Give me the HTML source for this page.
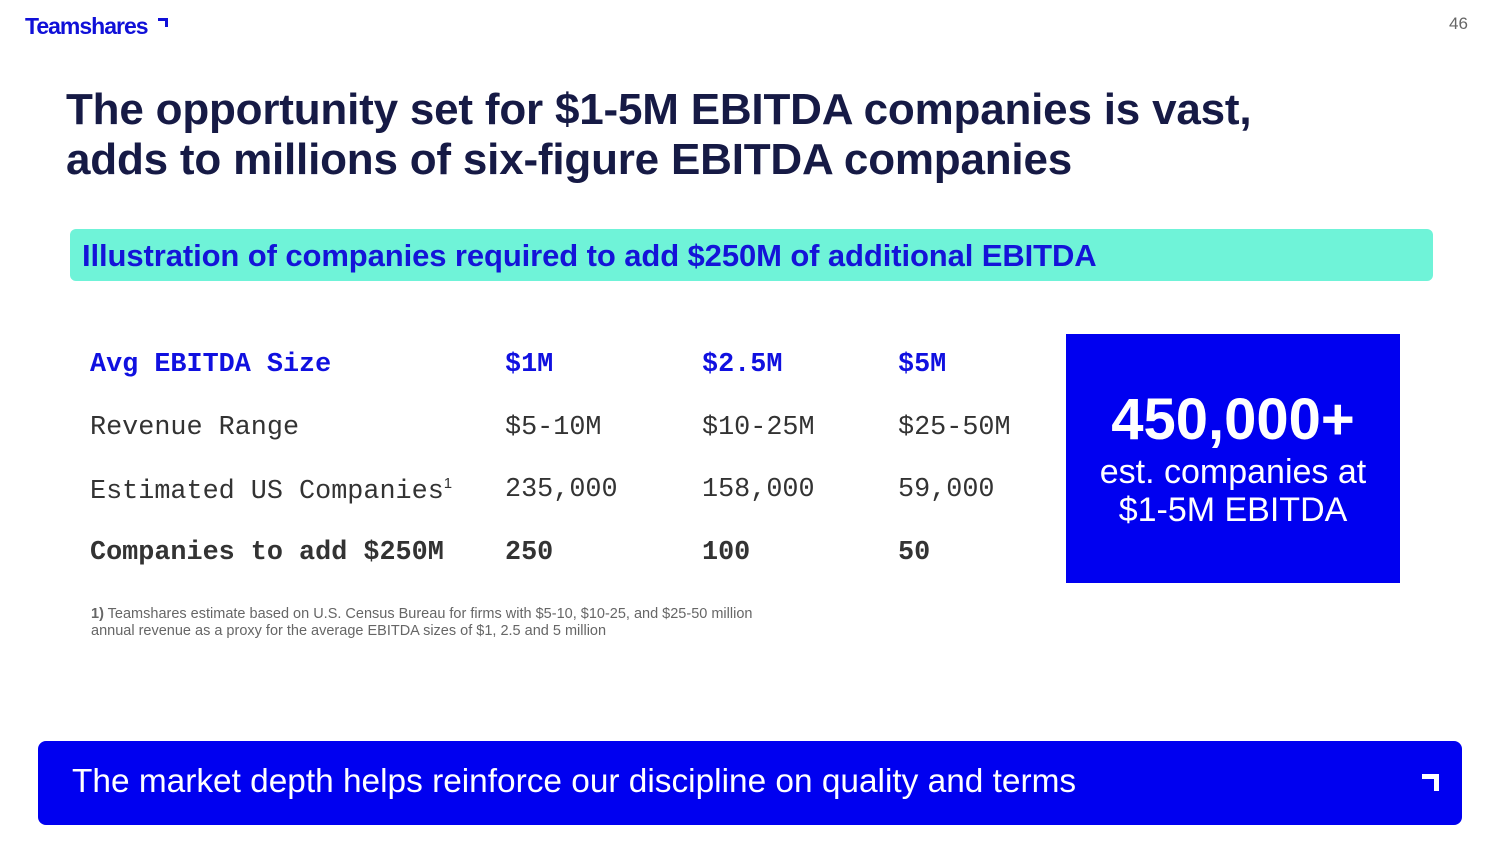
<!DOCTYPE html>
<html><head><meta charset="utf-8"><style>
*{margin:0;padding:0;box-sizing:border-box}
body{width:1500px;height:843px;background:#fff;position:relative;overflow:hidden;font-family:"Liberation Sans",sans-serif}
.a{position:absolute;white-space:nowrap}
.logo{left:25px;top:13px;font-size:23px;font-weight:bold;color:#1010d8;letter-spacing:-1px}
.pn{left:1449px;top:14px;font-size:17px;color:#666}
.title{left:66px;top:85px;font-size:44px;font-weight:bold;color:#161a45;line-height:50px;letter-spacing:-0.2px}
.band{left:70px;top:229px;width:1363px;height:52px;background:#6ff3d8;border-radius:6px}
.band span{position:absolute;left:12px;top:9px;font-size:31px;font-weight:bold;color:#1414d8;letter-spacing:-0.1px}
.t{font-family:"Liberation Mono",monospace;font-size:26.8px;color:#333}
.b{font-weight:bold}
.bl{color:#1010e0;font-weight:bold}
.box{left:1066px;top:334px;width:334px;height:249px;background:#0000f0;color:#fff;text-align:center}
.fn{left:91px;font-size:14.5px;color:#666}
.bar{left:38px;top:741px;width:1424px;height:84px;background:#0000f0;border-radius:8px}
</style></head><body>
<div class="a logo">Teamshares</div>
<div class="a" style="left:158px;top:18px;width:10px;height:3px;background:#1010d8"></div>
<div class="a" style="left:165px;top:18px;width:3px;height:9px;background:#1010d8"></div>
<div class="a pn">46</div>
<div class="a title">The opportunity set for $1-5M EBITDA companies is vast,<br>adds to millions of six-figure EBITDA companies</div>
<div class="a band"><span>Illustration of companies required to add $250M of additional EBITDA</span></div>

<div class="a t bl" style="left:90px;top:350px">Avg EBITDA Size</div>
<div class="a t bl" style="left:505px;top:350px">$1M</div>
<div class="a t bl" style="left:702px;top:350px">$2.5M</div>
<div class="a t bl" style="left:898px;top:350px">$5M</div>

<div class="a t" style="left:90px;top:413px">Revenue Range</div>
<div class="a t" style="left:505px;top:413px">$5-10M</div>
<div class="a t" style="left:702px;top:413px">$10-25M</div>
<div class="a t" style="left:898px;top:413px">$25-50M</div>

<div class="a t" style="left:90px;top:475px">Estimated US Companies<sup style="font-size:15px;font-family:'Liberation Sans'">1</sup></div>
<div class="a t" style="left:505px;top:475px">235,000</div>
<div class="a t" style="left:702px;top:475px">158,000</div>
<div class="a t" style="left:898px;top:475px">59,000</div>

<div class="a t b" style="left:90px;top:538px">Companies to add $250M</div>
<div class="a t b" style="left:505px;top:538px">250</div>
<div class="a t b" style="left:702px;top:538px">100</div>
<div class="a t b" style="left:898px;top:538px">50</div>

<div class="a fn" style="top:606px"><b>1)</b> Teamshares estimate based on U.S. Census Bureau for firms with $5-10, $10-25, and $25-50 million</div>
<div class="a fn" style="top:623px">annual revenue as a proxy for the average EBITDA sizes of $1, 2.5 and 5 million</div>

<div class="a box">
<div style="position:absolute;left:0;right:0;top:54px;font-size:58px;font-weight:bold;line-height:64px">450,000+</div>
<div style="position:absolute;left:0;right:0;top:119px;font-size:34px;line-height:38px">est. companies at<br>$1-5M EBITDA</div>
</div>

<div class="a bar">
<div style="position:absolute;left:34px;top:22px;font-size:33.4px;color:#fff">The market depth helps reinforce our discipline on quality and terms</div>
<div style="position:absolute;left:1384px;top:33px;width:17px;height:5px;background:#fff"></div>
<div style="position:absolute;left:1396px;top:33px;width:5px;height:17px;background:#fff"></div>
</div>
</body></html>
